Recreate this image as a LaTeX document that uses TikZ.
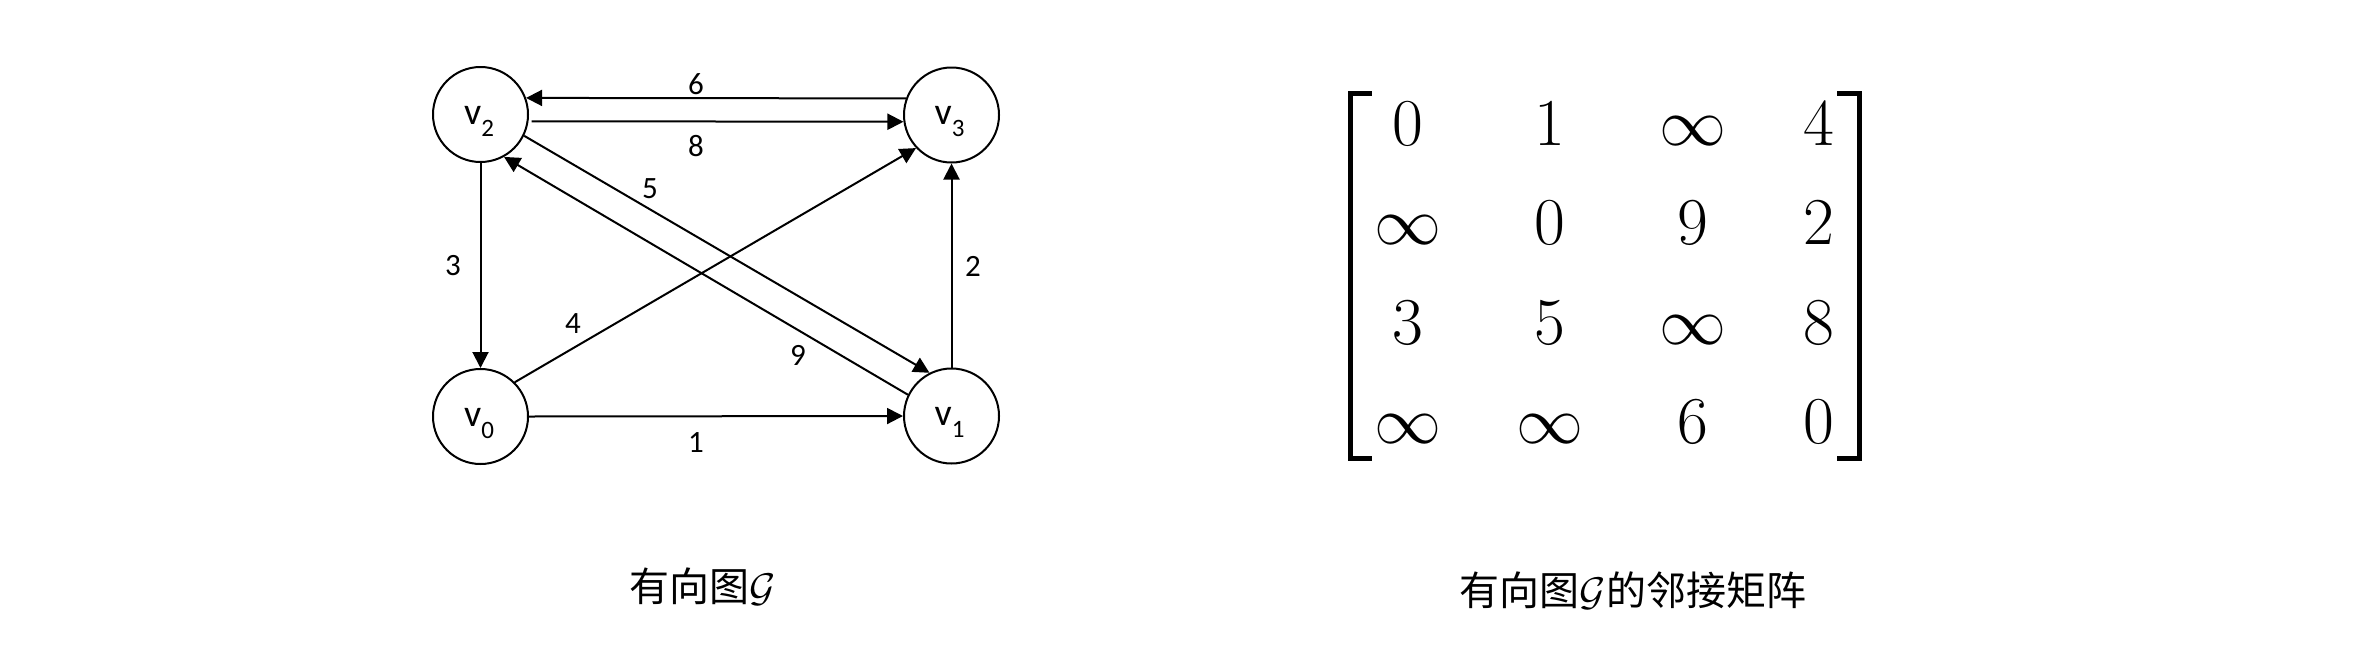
\RequirePackage{fix-cm}
\documentclass[tikz,border=0pt]{standalone}
\usepackage{fontspec}
\setmainfont{Carlito}
\newfontfamily\cjk{Noto Sans CJK SC}
\usetikzlibrary{arrows.meta}
\begin{document}
\begin{tikzpicture}[x=1pt,y=-1pt,
  vert/.style={circle,draw,line width=2pt,minimum size=95pt,inner sep=0pt},
  vlab/.style={anchor=base,inner sep=0pt,font=\fontsize{38}{38}\selectfont},
  edge/.style={line width=2pt,-{Triangle[length=16pt,width=16pt]}},
  elab/.style={inner sep=0pt,font=\fontsize{31}{31}\selectfont},
  ment/.style={anchor=base,inner sep=0pt,font=\fontsize{67}{67}\selectfont},
  brk/.style={line width=5.5pt,line join=miter},
  captext/.style={inner sep=0pt,font=\cjk\fontsize{40}{40}\selectfont}]
\useasboundingbox (0,0) rectangle (2376,659);
% vertices
\node[vert] (v2) at (480.5,114.5) {};
\node[vert] (v3) at (951.5,115) {};
\node[vert] (v0) at (480.5,416.5) {};
\node[vert] (v1) at (951.5,416) {};
\newcommand{\vsub}[1]{v\raisebox{-12pt}{\fontsize{25}{25}\selectfont #1}}
\node[vlab] (t2) at ([xshift=-1.5pt,yshift=-9.5pt]v2.center) {\vsub{2}};
\node[vlab] (t3) at ([xshift=-2pt,yshift=-9.5pt]v3.center) {\vsub{3}};
\node[vlab] (t0) at ([xshift=-1.5pt,yshift=-9.5pt]v0.center) {\vsub{0}};
\node[vlab] (t1) at ([xshift=-2pt,yshift=-9.5pt]v1.center) {\vsub{1}};
% edges
\draw[edge] (v3.160) -- (v2.20);
\draw[edge] ([xshift=3pt]v2.-8) -- (v3.188);
\draw[edge] (v2.-26) -- (v1.117.6);
\draw[edge] (v1.154.7) -- (v2.-61.7);
\draw[edge] (v0.45.8) -- (v3.223.8);
\draw[edge] (v2.south) -- (v0.north);
\draw[edge] (v1.north) -- (v3.south);
\draw[edge] (v0.east) -- (v1.west);
% edge labels
\node[elab] (l6) at (696,84) {6};
\node[elab] (l8) at (696,146) {8};
\node[elab] (l5) at (650,189) {5};
\node[elab] (l3) at (453,266) {3};
\node[elab] (l4) at (573,324) {4};
\node[elab] (l9) at (798,355) {9};
\node[elab] (l2) at (973,266) {2};
\node[elab] (l1) at (696,443) {1};
% matrix
\node[ment] (m11) at (1408,145) {$0$};
\node[ment] (m12) at (1550,145) {$1$};
\node[ment] (m13) at (1693,145) {$\infty$};
\node[ment] (m14) at (1819,145) {$4$};
\node[ment] (m21) at (1408,244.5) {$\infty$};
\node[ment] (m22) at (1550,244.5) {$0$};
\node[ment] (m23) at (1693,244.5) {$9$};
\node[ment] (m24) at (1819,244.5) {$2$};
\node[ment] (m31) at (1408,344) {$3$};
\node[ment] (m32) at (1550,344) {$5$};
\node[ment] (m33) at (1693,344) {$\infty$};
\node[ment] (m34) at (1819,344) {$8$};
\node[ment] (m41) at (1408,443.5) {$\infty$};
\node[ment] (m42) at (1550,443.5) {$\infty$};
\node[ment] (m43) at (1693,443.5) {$6$};
\node[ment] (m44) at (1819,443.5) {$0$};
\draw[brk] (1371.7,93.4) -- (1350.5,93.4) -- (1350.5,458.5) -- (1371.7,458.5);
\draw[brk] (1837,93.4) -- (1859.3,93.4) -- (1859.3,458.5) -- (1837,458.5);
% captions
\node[captext] (c1) at (703,586.5) {有向图$\mathcal{G}$};
\node[captext] (c2) at (1633,591) {有向图$\mathcal{G}$的邻接矩阵};
\end{tikzpicture}
\end{document}
